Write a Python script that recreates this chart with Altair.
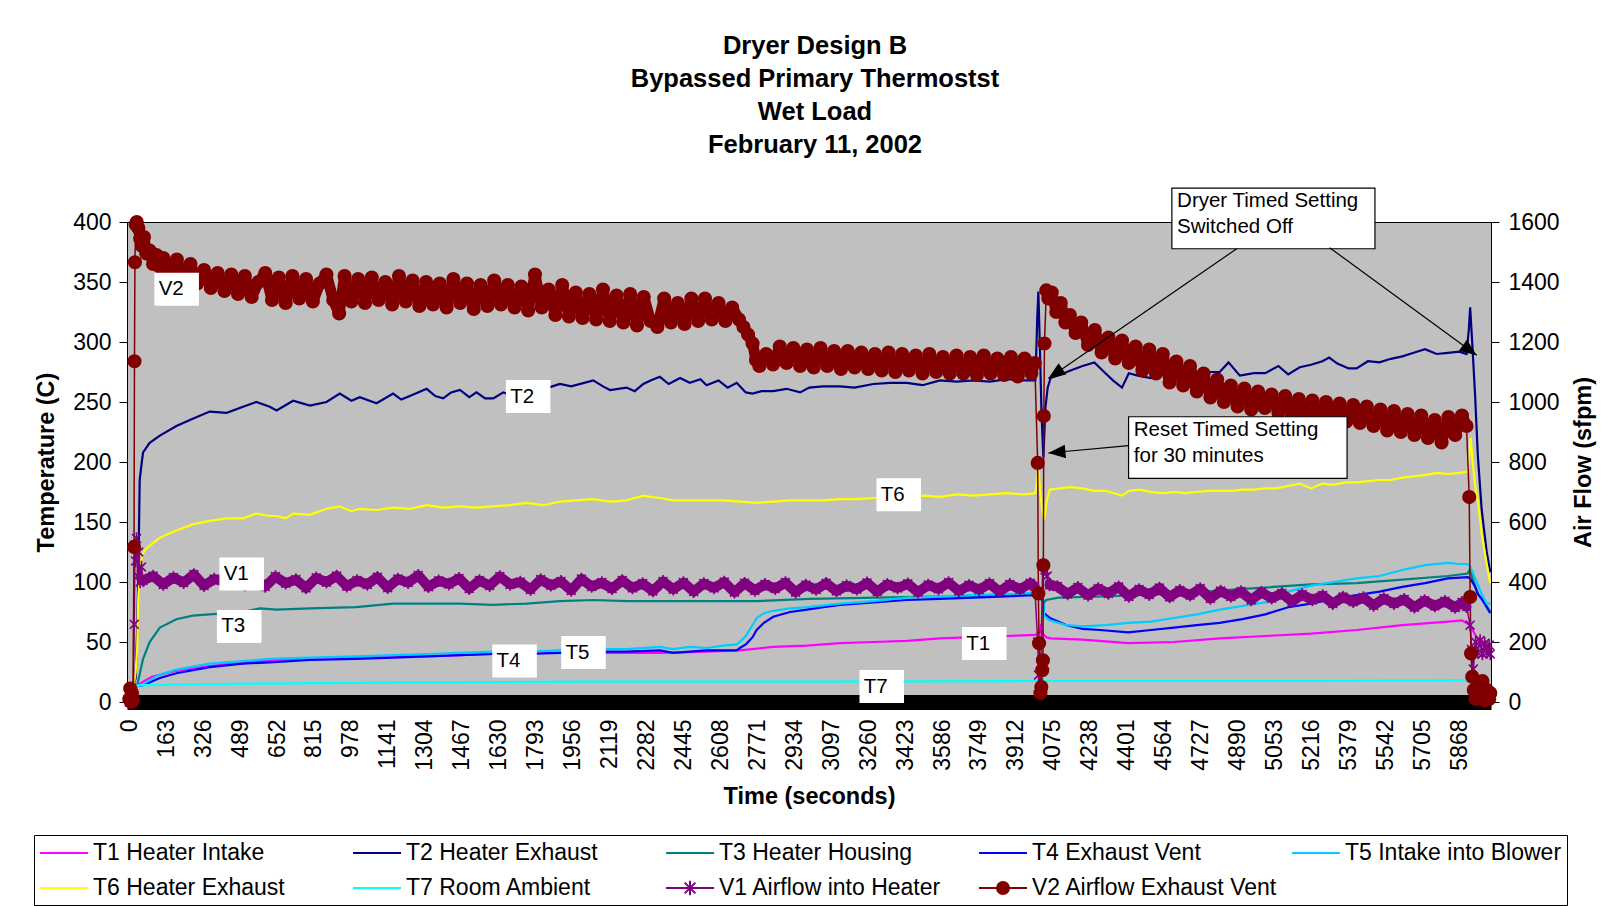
import altair as alt
import pandas as pd

FONT = "Liberation Sans"

SERIES = ["T1 Heater Intake", "T2 Heater Exhaust", "T3 Heater Housing", "T4 Exhaust Vent",
          "T5 Intake into Blower", "T6 Heater Exhaust", "T7 Room Ambient",
          "V1 Airflow into Heater", "V2 Airflow Exhaust Vent"]
COLORS = ["#FF00FF", "#000080", "#008080", "#0000FF", "#00CCFF", "#FFFF00", "#00FFFF", "#800080", "#800000"]

X_TICKS = [0, 163, 326, 489, 652, 815, 978, 1141, 1304, 1467, 1630, 1793, 1956, 2119, 2282, 2445,
           2608, 2771, 2934, 3097, 3260, 3423, 3586, 3749, 3912, 4075, 4238, 4401, 4564, 4727, 4890,
           5053, 5216, 5379, 5542, 5705, 5868]
Y_LEFT_TICKS = [0, 50, 100, 150, 200, 250, 300, 350, 400]
Y_RIGHT_TICKS = [0, 200, 400, 600, 800, 1000, 1200, 1400, 1600]

# (time s, temperature C)
T1 = [(0, 13), (30, 13), (61, 17), (100, 21), (208, 26), (355, 30), (502, 33), (650, 35), (797, 36),
      (1000, 37), (1164, 38), (1312, 38), (1459, 39), (1606, 40), (1753, 41), (1900, 41), (2047, 41),
      (2194, 41), (2341, 41), (2547, 42), (2694, 43), (2841, 46), (2990, 47), (3136, 49), (3283, 50),
      (3430, 51), (3577, 53), (3724, 54), (3871, 55), (3998, 56), (4018, 58), (4024, 65), (4030, 57),
      (4045, 54), (4065, 53), (4206, 52), (4408, 49), (4609, 50), (4811, 53), (5012, 55), (5214, 57),
      (5415, 60), (5617, 64), (5818, 67), (5880, 68), (5916, 64), (5938, 56), (5967, 48), (6005, 47)]

T2 = [(0, 13), (20, 14), (28, 20), (35, 60), (40, 105), (46, 185), (54, 198), (61, 208), (90, 216),
      (135, 222), (208, 230), (280, 236), (355, 242), (430, 241), (502, 246), (560, 250), (620, 246),
      (650, 243), (723, 251), (797, 247), (870, 250), (929, 257), (980, 251), (1017, 254), (1091, 249),
      (1164, 257), (1200, 252), (1238, 255), (1312, 261), (1350, 255), (1385, 253), (1420, 258),
      (1459, 260), (1500, 254), (1532, 258), (1570, 253), (1606, 253), (1650, 258), (1700, 255),
      (1753, 259), (1800, 256), (1850, 262), (1900, 265), (1950, 263), (2047, 268), (2090, 263),
      (2121, 260), (2194, 262), (2230, 259), (2268, 265), (2300, 268), (2341, 271), (2380, 265),
      (2430, 270), (2473, 266), (2520, 269), (2547, 264), (2600, 268), (2640, 262), (2680, 266),
      (2720, 258), (2750, 257), (2790, 259), (2841, 259), (2900, 261), (2960, 258), (3000, 262),
      (3060, 263), (3136, 263), (3200, 262), (3283, 265), (3357, 266), (3430, 266), (3500, 264),
      (3577, 268), (3651, 267), (3724, 268), (3798, 267), (3871, 269), (3945, 268), (3998, 268),
      (4006, 320), (4011, 342), (4017, 300), (4025, 240), (4033, 204), (4042, 245), (4052, 262),
      (4065, 270), (4110, 273), (4150, 276), (4206, 280), (4258, 283), (4307, 274), (4340, 268),
      (4380, 262), (4410, 274), (4450, 272), (4508, 270), (4560, 273), (4609, 272), (4660, 270),
      (4710, 271), (4760, 275), (4811, 275), (4850, 283), (4900, 272), (4962, 274), (5012, 274),
      (5070, 280), (5113, 273), (5164, 279), (5214, 281), (5264, 284), (5294, 287), (5330, 282),
      (5380, 278), (5415, 278), (5465, 284), (5516, 283), (5566, 286), (5617, 288), (5667, 291),
      (5717, 294), (5768, 290), (5818, 291), (5868, 292), (5900, 290), (5910, 310), (5916, 329),
      (5925, 300), (5938, 255), (5950, 205), (5967, 160), (5989, 125), (6005, 108)]

T3 = [(0, 13), (20, 13), (35, 14), (48, 25), (61, 36), (90, 50), (135, 62), (208, 69), (280, 72),
      (355, 73), (500, 75), (576, 78), (650, 77), (797, 78), (1000, 79), (1164, 82), (1459, 82),
      (1606, 81), (1753, 82), (1900, 84), (2047, 85), (2200, 84), (2341, 84), (2500, 84), (2768, 84),
      (3000, 86), (3300, 87), (3600, 88), (3900, 89), (4004, 90), (4022, 86), (4033, 82), (4045, 85),
      (4100, 87), (4300, 88), (4600, 90), (4900, 94), (5214, 98), (5415, 99), (5617, 102),
      (5818, 105), (5905, 107), (5916, 111), (5925, 104), (5950, 90), (5989, 80), (6005, 75)]

T4 = [(0, 13), (30, 13), (61, 14), (135, 20), (208, 24), (355, 29), (502, 32), (620, 33), (797, 35),
      (1000, 36), (1164, 37), (1312, 38), (1459, 39), (1606, 40), (1753, 40), (1900, 41), (2047, 42),
      (2194, 42), (2341, 43), (2400, 41), (2473, 42), (2547, 43), (2620, 43), (2680, 43), (2694, 45),
      (2720, 48), (2750, 54), (2768, 60), (2800, 66), (2841, 71), (2915, 75), (2990, 77), (3062, 79),
      (3136, 81), (3283, 83), (3430, 85), (3577, 86), (3724, 87), (3871, 88), (3990, 89), (4030, 88),
      (4036, 74), (4062, 70), (4136, 64), (4206, 61), (4283, 60), (4408, 58), (4508, 60), (4609, 62),
      (4710, 64), (4811, 66), (4911, 69), (5012, 73), (5113, 79), (5214, 82), (5314, 86), (5415, 89),
      (5516, 92), (5617, 96), (5717, 99), (5818, 103), (5905, 104), (5916, 103), (5938, 96),
      (5950, 90), (5967, 86), (5989, 79), (6005, 74)]

T5 = [(0, 13), (30, 13), (61, 15), (135, 23), (208, 27), (355, 32), (502, 34), (620, 36), (797, 37),
      (1000, 38), (1164, 39), (1312, 40), (1459, 41), (1606, 42), (1753, 42), (1900, 43), (2047, 44),
      (2194, 44), (2341, 46), (2400, 44), (2473, 46), (2547, 45), (2620, 47), (2680, 48), (2694, 50),
      (2720, 55), (2750, 64), (2768, 70), (2800, 74), (2841, 76), (2915, 78), (2990, 79), (3136, 82),
      (3283, 84), (3430, 87), (3577, 88), (3724, 89), (3871, 90), (3990, 91), (4030, 90), (4036, 72),
      (4062, 68), (4136, 64), (4206, 63), (4307, 64), (4408, 66), (4508, 67), (4609, 70), (4710, 73),
      (4811, 77), (4911, 80), (5012, 83), (5113, 92), (5214, 97), (5314, 100), (5415, 103),
      (5516, 105), (5617, 110), (5717, 114), (5818, 116), (5868, 115), (5905, 115), (5916, 113),
      (5967, 90), (5989, 82), (6005, 82)]

T6 = [(0, 13), (20, 14), (28, 25), (35, 45), (40, 88), (50, 116), (61, 124), (75, 128), (135, 137),
      (208, 143), (280, 148), (355, 151), (430, 153), (502, 153), (560, 157), (620, 155), (650, 155),
      (690, 153), (723, 157), (797, 156), (870, 161), (929, 163), (980, 159), (1017, 161), (1091, 160),
      (1164, 162), (1238, 161), (1312, 164), (1385, 162), (1459, 163), (1532, 162), (1606, 163),
      (1680, 164), (1753, 166), (1827, 164), (1900, 167), (1974, 168), (2047, 169), (2121, 167),
      (2194, 168), (2268, 172), (2300, 171), (2341, 170), (2400, 168), (2473, 168), (2547, 168),
      (2620, 168), (2694, 167), (2768, 166), (2841, 167), (2915, 168), (2990, 168), (3062, 168),
      (3136, 169), (3210, 169), (3283, 170), (3357, 170), (3430, 171), (3504, 172), (3577, 171),
      (3651, 173), (3724, 172), (3798, 173), (3871, 174), (3945, 173), (3998, 174), (4006, 185),
      (4011, 195), (4018, 178), (4028, 160), (4037, 152), (4048, 168), (4062, 177), (4106, 178),
      (4150, 179), (4206, 178), (4258, 176), (4307, 176), (4380, 172), (4410, 176), (4458, 177),
      (4508, 175), (4558, 174), (4609, 175), (4660, 174), (4710, 175), (4760, 176), (4811, 176),
      (4860, 176), (4911, 177), (4962, 177), (5012, 178), (5062, 178), (5113, 180), (5163, 182),
      (5214, 178), (5264, 182), (5314, 181), (5364, 183), (5415, 183), (5465, 184), (5516, 185),
      (5566, 185), (5617, 187), (5667, 188), (5717, 189), (5768, 191), (5818, 190), (5868, 191),
      (5905, 192), (5912, 205), (5918, 220), (5925, 204), (5938, 180), (5950, 168), (5967, 140),
      (5989, 115), (6005, 99)]

T7 = [(0, 13), (61, 14), (355, 15), (1000, 16), (2000, 17), (3000, 17), (4000, 17.5), (5000, 17.5),
      (5905, 18), (5950, 18), (6005, 18)]

# (time s, airflow sfpm)
V1 = [(0, 0), (6, 10), (12, 0), (18, 15), (22, 259), (25, 523), (28, 470), (32, 545), (37, 420),
      (42, 500), (48, 400), (54, 450), (60, 405), (105, 420), (150, 392), (195, 415), (240, 398),
      (285, 425), (330, 388), (375, 410), (420, 401), (465, 428), (510, 390), (555, 412), (600, 385),
      (645, 418), (690, 396), (735, 408), (780, 380), (825, 414), (870, 399), (915, 420), (960, 386),
      (1005, 405), (1050, 392), (1095, 416), (1140, 381), (1185, 410), (1230, 398), (1275, 422),
      (1320, 384), (1365, 404), (1410, 393), (1455, 412), (1500, 378), (1545, 405), (1590, 388),
      (1635, 418), (1680, 392), (1725, 400), (1770, 375), (1815, 408), (1860, 389), (1905, 402),
      (1950, 372), (1995, 410), (2040, 385), (2085, 398), (2130, 378), (2175, 405), (2220, 380),
      (2265, 395), (2310, 370), (2355, 402), (2400, 376), (2445, 398), (2490, 368), (2535, 395),
      (2580, 380), (2625, 400), (2670, 366), (2715, 396), (2760, 372), (2805, 392), (2850, 378),
      (2895, 398), (2940, 366), (2985, 390), (3030, 375), (3075, 396), (3120, 370), (3165, 388),
      (3210, 376), (3255, 397), (3300, 368), (3345, 392), (3390, 380), (3435, 394), (3480, 366),
      (3525, 390), (3570, 377), (3615, 398), (3660, 370), (3705, 389), (3750, 374), (3795, 395),
      (3840, 368), (3885, 392), (3930, 376), (3975, 396), (3995, 385), (4008, 200), (4012, 90),
      (4016, 40), (4022, 130), (4030, 460), (4040, 440), (4050, 420), (4060, 390), (4095, 385),
      (4140, 360), (4185, 382), (4230, 356), (4275, 378), (4320, 362), (4365, 384), (4410, 352),
      (4455, 375), (4500, 358), (4545, 380), (4590, 350), (4635, 372), (4680, 356), (4725, 378),
      (4770, 345), (4815, 370), (4860, 352), (4905, 368), (4950, 340), (4995, 366), (5040, 346),
      (5085, 362), (5130, 335), (5175, 358), (5220, 340), (5265, 355), (5310, 328), (5355, 350),
      (5400, 334), (5445, 348), (5490, 322), (5535, 345), (5580, 328), (5625, 342), (5670, 316),
      (5715, 338), (5760, 320), (5805, 336), (5850, 315), (5880, 332), (5900, 318), (5916, 256),
      (5922, 175), (5930, 110), (5940, 200), (5950, 165), (5960, 205), (5970, 160), (5980, 195),
      (5990, 165), (6000, 190), (6005, 160)]

V2 = [(0, 10), (4, 45), (8, 0), (12, 30), (16, 5), (21, 517), (23, 1136), (25, 1466), (28, 1592),
      (33, 1600), (40, 1580), (48, 1545), (56, 1520), (65, 1550), (75, 1495), (90, 1505), (105, 1460),
      (120, 1490), (135, 1450), (150, 1480), (180, 1430), (210, 1475), (240, 1410), (270, 1460),
      (300, 1395), (330, 1440), (360, 1380), (390, 1430), (420, 1370), (450, 1425), (480, 1360),
      (510, 1420), (540, 1350), (570, 1400), (600, 1430), (630, 1340), (660, 1415), (690, 1330),
      (720, 1420), (750, 1345), (780, 1410), (810, 1335), (840, 1395), (870, 1425), (900, 1340),
      (926, 1295), (950, 1420), (980, 1335), (1010, 1410), (1040, 1330), (1070, 1415), (1100, 1340),
      (1130, 1400), (1160, 1325), (1190, 1420), (1220, 1335), (1250, 1405), (1280, 1320),
      (1310, 1400), (1340, 1325), (1370, 1395), (1400, 1315), (1430, 1410), (1460, 1330),
      (1490, 1395), (1520, 1310), (1550, 1390), (1580, 1320), (1610, 1405), (1640, 1325),
      (1670, 1390), (1700, 1315), (1730, 1385), (1760, 1305), (1790, 1425), (1820, 1315),
      (1850, 1375), (1880, 1290), (1910, 1390), (1940, 1285), (1970, 1365), (2000, 1280),
      (2030, 1360), (2060, 1275), (2090, 1375), (2120, 1270), (2150, 1355), (2180, 1265),
      (2210, 1360), (2240, 1255), (2270, 1350), (2300, 1270), (2330, 1250), (2360, 1345),
      (2390, 1265), (2420, 1330), (2450, 1260), (2480, 1345), (2510, 1270), (2540, 1345),
      (2570, 1275), (2600, 1330), (2630, 1270), (2660, 1315), (2690, 1275), (2710, 1250),
      (2730, 1225), (2750, 1195), (2765, 1140), (2780, 1120), (2810, 1160), (2840, 1125),
      (2870, 1185), (2900, 1130), (2930, 1180), (2960, 1120), (2990, 1175), (3020, 1115),
      (3050, 1180), (3080, 1120), (3110, 1170), (3140, 1110), (3170, 1170), (3200, 1115),
      (3230, 1165), (3260, 1110), (3290, 1160), (3320, 1105), (3350, 1165), (3380, 1100),
      (3410, 1160), (3440, 1105), (3470, 1155), (3500, 1095), (3530, 1160), (3560, 1100),
      (3590, 1150), (3620, 1095), (3650, 1155), (3680, 1095), (3710, 1150), (3740, 1090),
      (3770, 1155), (3800, 1095), (3830, 1145), (3860, 1090), (3890, 1150), (3920, 1085),
      (3950, 1145), (3980, 1095), (3995, 1130), (4008, 797), (4011, 362), (4014, 196), (4020, 29),
      (4024, 50), (4028, 106), (4031, 139), (4033, 456), (4035, 953), (4038, 1195), (4046, 1372),
      (4055, 1345), (4070, 1365), (4090, 1300), (4110, 1330), (4130, 1265), (4150, 1290),
      (4175, 1230), (4200, 1265), (4230, 1190), (4260, 1240), (4290, 1165), (4320, 1215),
      (4350, 1145), (4380, 1205), (4410, 1130), (4440, 1185), (4470, 1105), (4500, 1175),
      (4530, 1095), (4560, 1160), (4590, 1065), (4620, 1135), (4650, 1055), (4680, 1120),
      (4710, 1035), (4740, 1095), (4770, 1015), (4800, 1075), (4830, 1000), (4860, 1055),
      (4890, 985), (4920, 1045), (4950, 975), (4980, 1035), (5010, 980), (5040, 1025), (5070, 965),
      (5100, 1020), (5130, 955), (5160, 1010), (5190, 950), (5220, 1005), (5250, 940), (5280, 1000),
      (5310, 945), (5340, 995), (5370, 935), (5400, 990), (5430, 930), (5460, 985), (5490, 920),
      (5520, 975), (5550, 905), (5580, 970), (5610, 900), (5640, 960), (5670, 890), (5700, 955),
      (5730, 880), (5760, 940), (5790, 865), (5820, 950), (5850, 890), (5880, 955), (5900, 920),
      (5912, 683), (5916, 350), (5920, 162), (5925, 84), (5932, 40), (5940, 10), (5950, 60),
      (5960, 20), (5970, 70), (5980, 5), (5990, 40), (6000, 10), (6005, 30)]

# time windows in which the dense airflow samples form a continuous band
BAND_WINDOWS = {SERIES[7]: [(60, 3995), (4060, 5900)],
                SERIES[8]: [(33, 3995), (4046, 5900)]}

# in-plot series labels (time s, temperature-axis value)
LABEL_TEXT = ["V2", "T2", "V1", "T3", "T4", "T5", "T6", "T1", "T7"]
LABEL_T = [209, 1760, 496, 485, 1700, 2004, 3395, 3772, 3320]
LABEL_V = [344, 254.5, 106.6, 63, 34.2, 41.2, 172.7, 48.7, 12.9]

# call-out boxes (in data units of the temperature axis)
NOTE_T1 = [4600, 4409]
NOTE_T2 = [5496, 5373]
NOTE_V1 = [428.3, 237.7]
NOTE_V2 = [377.7, 186.3]
NOTE_TEXT = ["Dryer Timed Setting", "Switched Off", "Reset Timed Setting", "for 30 minutes"]
NOTE_TEXT_T = [4623, 4623, 4432, 4432]
NOTE_TEXT_V = [417.2, 395.8, 226.6, 205.2]

# arrows: from (t0, v0) to tip (t1, v1)
ARROW_T0 = [4886, 5296, 4409]
ARROW_V0 = [377.7, 378.6, 213.7]
ARROW_T1 = [4055, 5945, 4055]
ARROW_V1 = [269.5, 288.9, 207.5]
ARROW_ANGLE = [235.4, 126.2, 264.7]

TITLE = ["Dryer Design B", "Bypassed Primary Thermostst", "Wet Load", "February 11, 2002"]

# ---------------------------------------------------------------- data frames
ALL_PTS = [T1, T2, T3, T4, T5, T6, T7, V1, V2]
temp_rows = []
for name, pts in zip(SERIES[:7], ALL_PTS[:7]):
    for t, v in pts:
        temp_rows.append({"t": t, "temp": v, "series": name})
temp_df = pd.DataFrame(temp_rows)

air_rows = []
for name, pts in zip(SERIES[7:], ALL_PTS[7:]):
    for t, v in pts:
        seg = 0
        for i, (a, b) in enumerate(BAND_WINDOWS[name]):
            if a <= t <= b:
                seg = i + 1
        air_rows.append({"t": t, "flow": v, "series": name, "seg": seg})
air_df = pd.DataFrame(air_rows)

# one (invisible) anchor per series, only used to give the legend its marker shapes
legend_df = pd.DataFrame({"series": SERIES, "t": [p[0][0] for p in ALL_PTS],
                          "v": [p[0][1] for p in ALL_PTS[:7]] + [0, 0]})

label_df = pd.DataFrame({"t": LABEL_T, "v": LABEL_V, "text": LABEL_TEXT})
note_df = pd.DataFrame({"t1": NOTE_T1, "t2": NOTE_T2, "v1": NOTE_V1, "v2": NOTE_V2})
note_text_df = pd.DataFrame({"t": NOTE_TEXT_T, "v": NOTE_TEXT_V, "text": NOTE_TEXT})
arrow_df = pd.DataFrame({"t0": ARROW_T0, "v0": ARROW_V0, "t1": ARROW_T1, "v1": ARROW_V1,
                         "ang": ARROW_ANGLE})

# ---------------------------------------------------------------- encodings
X_SCALE = alt.Scale(domain=[-10, 6008], nice=False, zero=False)
X_AXIS = alt.Axis(values=X_TICKS, format="d", labelAngle=270, labelAlign="right",
                  labelBaseline="middle", labelPadding=17, ticks=False, domainWidth=15,
                  domainColor="#000000", labelOverlap=False, labelFlush=False, grid=False,
                  title="Time (seconds)", titlePadding=14, labelFontSize=23, titleFontSize=23.5)

YL_SCALE = alt.Scale(domain=[0, 400], nice=False, zero=True)
YL_AXIS = alt.Axis(orient="left", values=Y_LEFT_TICKS, format="d", tickSize=8,
                   tickColor="#000000", domainColor="#000000", labelPadding=8, grid=False,
                   title="Temperature (C)", titlePadding=14, labelFontSize=23, titleFontSize=23.5)
YR_SCALE = alt.Scale(domain=[0, 1600], nice=False, zero=True)
YR_AXIS = alt.Axis(orient="right", values=Y_RIGHT_TICKS, format="d", tickSize=8,
                   tickColor="#000000", domainColor="#000000", labelPadding=9, grid=False,
                   title="Air Flow (sfpm)", titleAngle=270, titleBaseline="top",
                   titlePadding=12, labelFontSize=23, titleFontSize=23.5)

LINE_PATH = "M-2,0H2"
STAR_LEG = "M-2,0H2M-0.45,-0.45L0.45,0.45M-0.45,0.45L0.45,-0.45M0,-0.6V0.6"
CIRC_LEG = "M-2,0H2M-0.5,0A0.5,0.5,0,1,1,0.5,0A0.5,0.5,0,1,1,-0.5,0Z"
LEG_SHAPES = [LINE_PATH] * 7 + [STAR_LEG, CIRC_LEG]

LEGEND = alt.Legend(
    title=None, orient="none", legendX=-93, legendY=613, direction="horizontal", columns=5,
    gridAlign="all", columnPadding=10, rowPadding=10, padding=5,
    strokeColor="#000000", fillColor="#FFFFFF",
    labelFont=FONT, labelFontSize=23, labelColor="#000000", labelOffset=16, labelLimit=400,
    symbolSize=576, symbolStrokeWidth=2, symbolOpacity=1, symbolFillColor="#800000",
    symbolType=LINE_PATH, symbolOffset=12,
)
COLOR_SCALE = alt.Scale(domain=SERIES, range=COLORS)
COLOR = alt.Color("series:N", scale=COLOR_SCALE, legend=LEGEND)


def xenc(field):
    return alt.X(field, type="quantitative", scale=X_SCALE, axis=X_AXIS)


def yl(field):
    return alt.Y(field, type="quantitative", scale=YL_SCALE, axis=None)


def yr(field):
    return alt.Y(field, type="quantitative", scale=YR_SCALE, axis=YR_AXIS)


# ---------------------------------------------------------------- layers
temp_lines = alt.Chart(temp_df).mark_line(strokeWidth=2.2, clip=True).encode(
    x=xenc("t"),
    y=alt.Y("temp:Q", scale=YL_SCALE, axis=YL_AXIS),
    color=COLOR,
)

STAR_MARK = "M-0.7,-0.7L0.7,0.7M-0.7,0.7L0.7,-0.7M0,-1V1"
air_line = alt.Chart(air_df).mark_line(strokeWidth=1.5, clip=True).encode(
    x=xenc("t"), y=yr("flow"), color=COLOR,
)
v1_band = alt.Chart(air_df).transform_filter(
    (alt.datum.series == SERIES[7]) & (alt.datum.seg > 0)
).mark_line(strokeWidth=10, strokeJoin="round", strokeCap="round", clip=True).encode(
    x=xenc("t"), y=yr("flow"), color=COLOR, detail="seg:N",
)
v1_pts = alt.Chart(air_df).transform_filter(
    alt.datum.series == SERIES[7]
).mark_point(shape=STAR_MARK, size=160, strokeWidth=1.6, filled=False, opacity=1).encode(
    x=xenc("t"), y=yr("flow"), color=COLOR,
)
v2_band = alt.Chart(air_df).transform_filter(
    (alt.datum.series == SERIES[8]) & (alt.datum.seg > 0)
).mark_line(strokeWidth=11, strokeJoin="round", strokeCap="round", clip=True).encode(
    x=xenc("t"), y=yr("flow"), color=COLOR, detail="seg:N",
)
v2_pts = alt.Chart(air_df).transform_filter(
    alt.datum.series == SERIES[8]
).mark_circle(size=200, opacity=1).encode(
    x=xenc("t"), y=yr("flow"), color=COLOR,
)
air_layer = alt.layer(air_line, v1_band, v1_pts, v2_band, v2_pts)

legend_anchor = alt.Chart(legend_df).mark_point(opacity=0, filled=False).encode(
    x=xenc("t"),
    y=yl("v"),
    color=COLOR,
    shape=alt.Shape("series:N", scale=alt.Scale(domain=SERIES, range=LEG_SHAPES), legend=LEGEND),
)

BOX_PATH = "M-1.35,-1H1.35V1H-1.35Z"
label_boxes = alt.Chart(label_df).mark_point(
    shape=BOX_PATH, filled=True, fill="#FFFFFF", size=1089, opacity=1, strokeWidth=0
).encode(x=xenc("t"), y=yl("v"))
label_texts = alt.Chart(label_df).mark_text(
    align="left", baseline="middle", dx=-18, fontSize=20.5, font=FONT, color="#000000"
).encode(x=xenc("t"), y=yl("v"), text="text:N")

note_boxes = alt.Chart(note_df).mark_rect(
    fill="#FFFFFF", stroke="#000000", strokeWidth=1.2, opacity=1
).encode(x=xenc("t1"), x2="t2", y=yl("v1"), y2="v2")
note_texts = alt.Chart(note_text_df).mark_text(
    align="left", baseline="middle", fontSize=20.5, font=FONT, color="#000000"
).encode(x=xenc("t"), y=yl("v"), text="text:N")

arrows = alt.Chart(arrow_df).mark_rule(color="#000000", strokeWidth=1.2).encode(
    x=xenc("t0"), x2="t1", y=yl("v0"), y2="v1"
)
HEAD_PATH = "M0,0L-0.75,1.9L0.75,1.9Z"
heads = alt.Chart(arrow_df).mark_point(
    shape=HEAD_PATH, filled=True, fill="#000000", size=324, opacity=1, strokeWidth=0
).encode(x=xenc("t1"), y=yl("v1"), angle=alt.Angle("ang:Q", scale=None))

annot_layer = alt.layer(legend_anchor, label_boxes, label_texts, note_boxes, note_texts,
                        arrows, heads)

chart = alt.layer(temp_lines, air_layer, annot_layer).resolve_scale(
    y="independent"
).properties(
    width=1364,
    height=480,
    autosize=alt.AutoSizeParams(type="none"),
    padding={"left": 119, "top": 214, "right": 110, "bottom": 204},
    title=alt.TitleParams(text=TITLE, fontSize=25.5, font=FONT, fontWeight="bold",
                          anchor="middle", frame="group", offset=29, lineHeight=33, dx=6,
                          color="#000000"),
    background="#FFFFFF",
).configure_view(
    fill="#C0C0C0", stroke="#000000", strokeWidth=1
).configure_axis(
    labelFont=FONT, titleFont=FONT, labelColor="#000000", titleColor="#000000",
    titleFontWeight="bold"
)

chart.save("out.html", embed_options={"renderer": "svg", "actions": False})
